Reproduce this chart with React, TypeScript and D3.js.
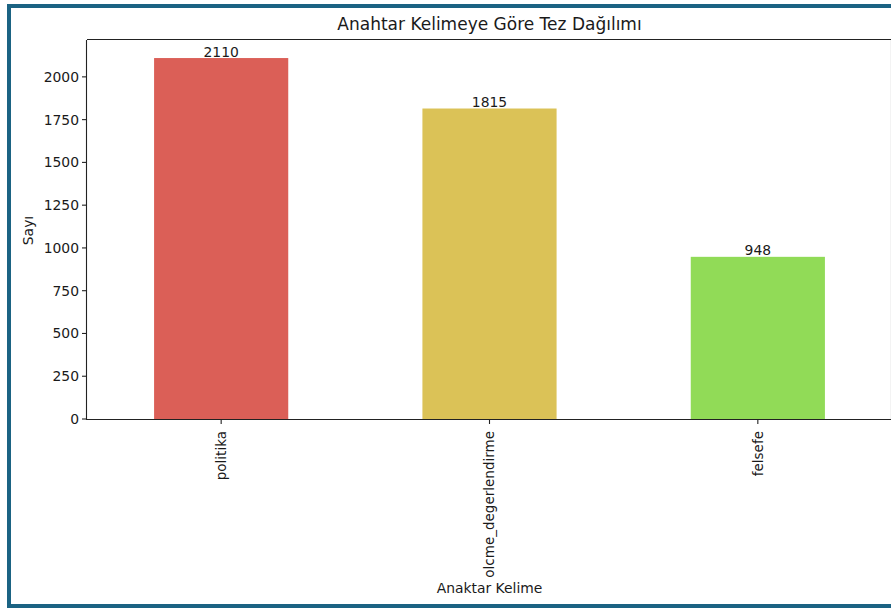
import React from "react";
import * as d3 from "d3";

const categories = ["politika", "olcme_degerlendirme", "felsefe"];
const counts = [2110, 1815, 948];
const barColors = ["#db5f57", "#dbc257", "#91db57"];
const yTicks = [0, 250, 500, 750, 1000, 1250, 1500, 1750, 2000];

const W = 891;
const H = 608;
const plot = { left: 87, right: 892, top: 40, bottom: 419 };
const font = "'DejaVu Sans', sans-serif";

export default function App() {
  const x = d3
    .scaleBand<string>()
    .domain(categories)
    .range([plot.left, plot.right])
    .paddingInner(0.5)
    .paddingOuter(0.25);
  const yMax = d3.max(counts)! * 1.05;
  const y = d3.scaleLinear().domain([0, yMax]).range([plot.bottom, plot.top]);
  const bw = x.bandwidth();

  return (
    <div style={{ position: "absolute", left: 0, top: 0, width: W, height: H, background: "#fff" }}>
      <svg width={W} height={H} style={{ display: "block" }}>
        <rect x={0} y={0} width={W} height={H} fill="#fff" />
        {categories.map((c, i) => (
          <rect
            key={c}
            x={x(c)!}
            y={y(counts[i])}
            width={bw}
            height={y(0) - y(counts[i])}
            fill={barColors[i]}
          />
        ))}
        {categories.map((c, i) => (
          <text
            key={c + "v"}
            x={x(c)! + bw / 2}
            y={y(counts[i]) - 1.5}
            textAnchor="middle"
            fontFamily={font}
            fontSize={13.9}
            fill="#1a1a1a"
          >
            {counts[i]}
          </text>
        ))}
        {/* spines */}
        <line x1={plot.left} x2={plot.right} y1={plot.top - 0.5} y2={plot.top - 0.5} stroke="#222" strokeWidth={1.1} />
        <line x1={plot.left} x2={plot.right} y1={plot.bottom + 0.5} y2={plot.bottom + 0.5} stroke="#222" strokeWidth={1.1} />
        <line x1={plot.left - 0.5} x2={plot.left - 0.5} y1={plot.top} y2={plot.bottom + 1} stroke="#222" strokeWidth={1.1} />
        <line x1={plot.right - 0.5} x2={plot.right - 0.5} y1={plot.top} y2={plot.bottom + 1} stroke="#222" strokeWidth={1.1} />
        {/* y ticks */}
        {yTicks.map((t) => (
          <g key={t} transform={`translate(0,${y(t)})`}>
            <line x1={plot.left - 5} x2={plot.left} y1={0} y2={0} stroke="#222" strokeWidth={1.1} />
            <text
              x={plot.left - 8}
              y={0}
              dy="0.35em"
              textAnchor="end"
              fontFamily={font}
              fontSize={13.9}
              fill="#1a1a1a"
            >
              {t}
            </text>
          </g>
        ))}
        {/* x ticks */}
        {categories.map((c) => {
          const cx = x(c)! + bw / 2;
          return (
            <g key={c + "t"}>
              <line x1={cx} x2={cx} y1={plot.bottom} y2={plot.bottom + 5} stroke="#222" strokeWidth={1.1} />
              <text
                transform={`translate(${cx},${plot.bottom + 12}) rotate(-90)`}
                textAnchor="end"
                dy="0.35em"
                fontFamily={font}
                fontSize={13.5}
                fill="#1a1a1a"
              >
                {c}
              </text>
            </g>
          );
        })}
        {/* title */}
        <text
          x={(plot.left + plot.right) / 2}
          y={plot.top - 10}
          textAnchor="middle"
          fontFamily={font}
          fontSize={17}
          fill="#1a1a1a"
        >
          Anahtar Kelimeye Göre Tez Dağılımı
        </text>
        {/* axis labels */}
        <text
          x={(plot.left + plot.right) / 2}
          y={593}
          textAnchor="middle"
          fontFamily={font}
          fontSize={13.9}
          fill="#1a1a1a"
        >
          Anaktar Kelime
        </text>
        <text
          transform={`translate(33,${(plot.top + plot.bottom) / 2 + 1}) rotate(-90)`}
          textAnchor="middle"
          fontFamily={font}
          fontSize={13.9}
          fill="#1a1a1a"
        >
          Sayı
        </text>
        {/* outer frame */}
        <rect x={9} y={6} width={W + 20} height={600} fill="none" stroke="#1b6383" strokeWidth={4} />
      </svg>
    </div>
  );
}
